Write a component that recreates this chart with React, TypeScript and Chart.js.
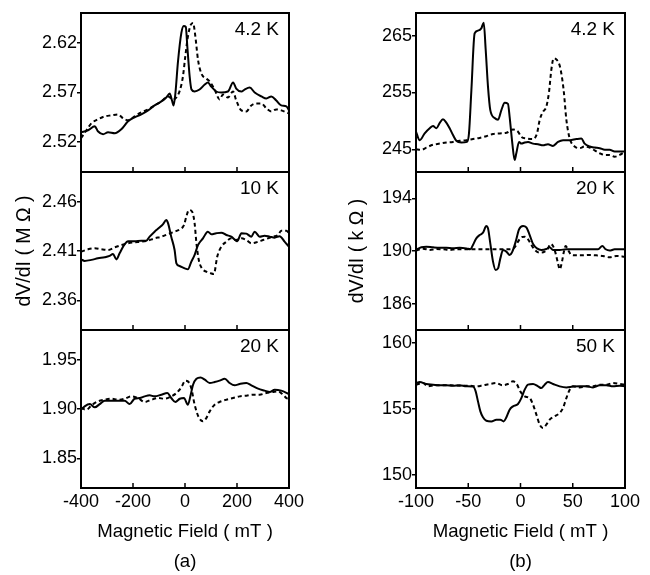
import { useEffect, useRef } from 'react';
import { Chart, registerables } from 'chart.js';

Chart.register(...registerables);

type Pt = [number, number];

// ---- Magnetic field axes (mT) ----
const fieldTicksA = [-400, -200, 0, 200, 400];
const fieldTicksB = [-100, -50, 0, 50, 100];
const innerTicksA = [-200, 0, 200];
const innerTicksB = [-50, 0, 50];

// ---- (a) dV/dI in MΩ ----
const a42Ticks = [2.52, 2.57, 2.62];
const a10Ticks = [2.36, 2.41, 2.46];
const a20Ticks = [1.85, 1.9, 1.95];

const a42Solid: Pt[] = [
  [-400, 2.530], [-373, 2.532], [-347, 2.536], [-335, 2.531], [-315, 2.528], [-296, 2.530],
  [-270, 2.529], [-245, 2.533], [-219, 2.541], [-194, 2.545], [-168, 2.548], [-142, 2.552],
  [-117, 2.557], [-91, 2.561], [-72, 2.565], [-59, 2.569], [-50, 2.562], [-44, 2.557],
  [-37, 2.569], [-27, 2.601], [-14, 2.630], [-5, 2.637], [3, 2.636], [9, 2.616], [18, 2.586],
  [25, 2.573], [37, 2.571], [56, 2.573], [76, 2.578], [88, 2.580], [101, 2.576], [120, 2.571],
  [140, 2.570], [165, 2.571], [185, 2.580], [197, 2.574], [217, 2.571], [229, 2.573],
  [249, 2.575], [268, 2.570], [294, 2.566], [313, 2.564], [332, 2.566], [351, 2.562],
  [370, 2.557], [390, 2.556], [400, 2.552],
];
const a42Dashed: Pt[] = [
  [-400, 2.524], [-379, 2.532], [-360, 2.539], [-335, 2.543], [-309, 2.546], [-283, 2.547],
  [-258, 2.548], [-238, 2.544], [-219, 2.542], [-194, 2.546], [-168, 2.550], [-142, 2.553],
  [-117, 2.557], [-91, 2.561], [-65, 2.566], [-46, 2.563], [-33, 2.565], [-20, 2.572],
  [-8, 2.586], [1, 2.606], [11, 2.626], [22, 2.638], [31, 2.640], [40, 2.626], [50, 2.603],
  [63, 2.589], [82, 2.584], [95, 2.581], [114, 2.573], [133, 2.563], [146, 2.568], [165, 2.565],
  [185, 2.571], [197, 2.562], [217, 2.552], [236, 2.551], [255, 2.557], [274, 2.559],
  [294, 2.559], [313, 2.554], [332, 2.551], [351, 2.553], [370, 2.552], [400, 2.549],
];

const a10Solid: Pt[] = [
  [-400, 2.4015], [-386, 2.400], [-360, 2.401], [-335, 2.4026], [-309, 2.4036], [-290, 2.405],
  [-277, 2.407], [-264, 2.4015], [-251, 2.408], [-232, 2.417], [-219, 2.420], [-194, 2.420],
  [-168, 2.4205], [-149, 2.4205], [-136, 2.4245], [-117, 2.4296], [-97, 2.434], [-85, 2.437],
  [-72, 2.4414], [-65, 2.438], [-53, 2.4245], [-40, 2.411], [-33, 2.3975], [-21, 2.3948],
  [-1, 2.3924], [11, 2.3914], [24, 2.399], [37, 2.406], [50, 2.416], [69, 2.4228], [88, 2.4296],
  [101, 2.427], [120, 2.428], [140, 2.4286], [159, 2.4262], [178, 2.4245], [201, 2.420],
  [217, 2.428], [236, 2.4276], [255, 2.4245], [268, 2.4296], [287, 2.4245], [306, 2.4255],
  [326, 2.4245], [345, 2.4235], [364, 2.425], [383, 2.4195], [400, 2.4144],
];
const a10Dashed: Pt[] = [
  [-400, 2.4093], [-373, 2.4117], [-347, 2.4127], [-322, 2.4117], [-296, 2.411], [-270, 2.4137],
  [-245, 2.416], [-219, 2.4178], [-194, 2.4188], [-168, 2.4194], [-142, 2.4205], [-117, 2.4228],
  [-91, 2.4245], [-65, 2.4272], [-40, 2.4296], [-20, 2.432], [-4, 2.4363], [5, 2.4448],
  [15, 2.4515], [27, 2.450], [37, 2.438], [44, 2.4178], [53, 2.4009], [65, 2.3924], [82, 2.389],
  [99, 2.3874], [111, 2.3867], [124, 2.4043], [140, 2.4144], [159, 2.4194], [178, 2.4228],
  [197, 2.4211], [217, 2.4228], [236, 2.4211], [255, 2.4178], [281, 2.4194], [300, 2.4211],
  [319, 2.4228], [338, 2.4245], [358, 2.4262], [370, 2.4306], [390, 2.4306], [400, 2.428],
];

const a20Solid: Pt[] = [
  [-400, 1.8993], [-386, 1.9027], [-366, 1.905], [-347, 1.9017], [-328, 1.905], [-309, 1.9084],
  [-283, 1.9084], [-258, 1.9084], [-232, 1.9084], [-213, 1.905], [-194, 1.9104], [-174, 1.9111],
  [-155, 1.9128], [-136, 1.9138], [-117, 1.9128], [-91, 1.9145], [-68, 1.9162], [-53, 1.9111],
  [-37, 1.9071], [-20, 1.9104], [-4, 1.9111], [11, 1.9044], [22, 1.9145], [31, 1.9246],
  [44, 1.9307], [60, 1.932], [76, 1.9297], [95, 1.9263], [114, 1.9273], [133, 1.9287],
  [153, 1.9307], [172, 1.9263], [191, 1.924], [210, 1.9253], [236, 1.9263], [255, 1.924],
  [281, 1.9206], [306, 1.9186], [326, 1.9172], [345, 1.9196], [370, 1.9186], [400, 1.9152],
];
const a20Dashed: Pt[] = [
  [-400, 1.901], [-379, 1.8993], [-360, 1.9037], [-335, 1.9077], [-309, 1.9094], [-283, 1.9104],
  [-258, 1.9094], [-232, 1.9104], [-206, 1.9128], [-181, 1.9111], [-155, 1.9071], [-129, 1.9094],
  [-104, 1.9111], [-78, 1.9104], [-53, 1.9128], [-33, 1.9162], [-14, 1.922], [1, 1.9287],
  [11, 1.928], [24, 1.9213], [37, 1.9044], [53, 1.8915], [69, 1.8875], [82, 1.8908],
  [95, 1.8976], [114, 1.9044], [133, 1.9071], [159, 1.9094], [185, 1.9111], [210, 1.9128],
  [236, 1.9135], [262, 1.9145], [287, 1.9145], [313, 1.9162], [338, 1.9172], [358, 1.9179],
  [377, 1.9145], [390, 1.9111], [400, 1.9104],
];

// ---- (b) dV/dI in kΩ ----
const b42Ticks = [245, 255, 265];
const b20Ticks = [186, 190, 194];
const b50Ticks = [150, 155, 160];

const b42Solid: Pt[] = [
  [-100, 248.1], [-96.5, 246.6], [-91.7, 247.8], [-86.9, 248.7], [-83.7, 249.1], [-80.5, 248.7],
  [-77.4, 249.6], [-74.2, 250.3], [-71, 249.7], [-67.8, 248.7], [-64.6, 247.5], [-61.4, 246.5],
  [-56.6, 246.2], [-51.2, 246.3], [-49.3, 247.8], [-47, 255.4], [-43.9, 265.4], [-40.7, 265.9],
  [-37.5, 266.3], [-35.2, 267.3], [-33.3, 262.5], [-31.1, 256], [-28.9, 251.9], [-24.7, 250.5],
  [-21.5, 250.2], [-18.3, 251.9], [-15.1, 253.2], [-12, 253], [-10.4, 250.7], [-7.8, 246],
  [-5.6, 243.1], [-4, 244.3], [-1.4, 246.3], [0.8, 246], [4, 246.2], [7.2, 246.3], [12, 246],
  [16.8, 245.9], [21.5, 245.7], [26.3, 245.9], [31.1, 245.6], [35.9, 246.3], [40.7, 246.6],
  [47.1, 246.6], [53.4, 246.8], [58.2, 246.9], [61.4, 246], [66.2, 245.5], [71, 245.3],
  [75.8, 245.2], [80.6, 244.9], [85.3, 244.9], [90.1, 244.6], [94.9, 244.6], [100, 244.6],
];
const b42Dashed: Pt[] = [
  [-100, 245], [-94.9, 244.9], [-90.1, 245.3], [-83.7, 245.8], [-77.4, 246], [-71, 246.2],
  [-64.6, 246.3], [-58.2, 246.5], [-51.8, 246.6], [-45.5, 246.8], [-39.1, 247], [-32.7, 247.3],
  [-26.3, 247.7], [-19.9, 247.8], [-13.5, 247.9], [-7.2, 248.5], [-2.4, 248.1], [0.8, 247.2],
  [5.6, 246.9], [12, 246.8], [15.8, 247.8], [18.4, 250.2], [21.5, 251.6], [24.7, 252.5],
  [27.3, 255.1], [29.5, 259], [31.7, 261], [35, 260.7], [38.1, 259.3], [41.3, 255.4],
  [43.9, 250.2], [47.1, 246.9], [51.8, 245.5], [56.6, 245.2], [61.4, 245.5], [66.2, 245.3],
  [71, 244.8], [75.8, 244.3], [80.6, 244], [85.3, 244], [90.1, 243.7], [94.9, 244], [100, 244.6],
];

const b20Solid: Pt[] = [
  [-100, 190.08], [-94.9, 190.28], [-90.1, 190.33], [-83.7, 190.28], [-77.4, 190.25],
  [-71, 190.25], [-64.6, 190.2], [-58.2, 190.25], [-51.8, 190.2], [-48, 190.13], [-45.5, 190.46],
  [-42.3, 190.96], [-39.1, 191.21], [-35.9, 191.39], [-32.7, 191.9], [-31.1, 191.72],
  [-28.9, 190.58], [-26.3, 189.19], [-23.8, 188.56], [-21.5, 188.68], [-19.3, 189.44],
  [-16.7, 190.08], [-13.5, 189.95], [-10.4, 189.7], [-7.8, 189.95], [-4.6, 190.71],
  [-1.4, 191.64], [2.4, 191.9], [5.6, 191.8], [8.8, 191.21], [12, 190.53], [15.8, 190.2],
  [19.9, 190.08], [24.7, 190.15], [27.9, 190.28], [31.1, 190.08], [37.5, 190.08], [43.9, 190.13],
  [50.2, 190.13], [56.6, 190.13], [63, 190.13], [69.4, 190.13], [74.2, 190.13], [78.3, 190.38],
  [81.5, 190.13], [85.3, 190.03], [90.1, 190.13], [94.9, 190.13], [100, 190.13],
];
const b20Dashed: Pt[] = [
  [-100, 190.03], [-93.3, 190.18], [-86.9, 190.08], [-80.5, 190.15], [-74.2, 190.13],
  [-67.8, 190.08], [-61.4, 190.13], [-55, 190.13], [-48.6, 190.13], [-42.3, 190.13],
  [-35.9, 190.13], [-29.5, 190.13], [-23.1, 190.13], [-16.7, 190.13], [-10.4, 190.13],
  [-5.6, 190.28], [-2.4, 190.71], [0.8, 191.04], [4, 191.09], [7.2, 190.89], [10.4, 190.46],
  [13.6, 190.08], [18.4, 189.87], [23.1, 189.95], [26.3, 190.2], [28.6, 190.53], [31.1, 190.38],
  [33.6, 189.82], [35.9, 189.06], [37.5, 188.61], [39.7, 189.19], [41.3, 189.87], [43.2, 190.38],
  [45.5, 190.08], [48.7, 189.7], [53.4, 189.67], [59.8, 189.67], [66.2, 189.7], [72.6, 189.67],
  [79, 189.62], [85.3, 189.52], [91.7, 189.62], [100, 189.57],
];

const b50Solid: Pt[] = [
  [-100, 156.97], [-96.5, 157.05], [-90.1, 156.9], [-83.7, 156.85], [-77.4, 156.8], [-71, 156.8],
  [-64.6, 156.77], [-58.2, 156.8], [-51.8, 156.72], [-45.5, 156.7], [-42.9, 156.34],
  [-40.7, 155.58], [-38.4, 154.82], [-35.9, 154.37], [-32.7, 154.11], [-27.9, 154.06],
  [-23.1, 154.19], [-19.3, 154.19], [-16.1, 154.06], [-13.5, 154.37], [-10.4, 154.95],
  [-7.2, 155.2], [-2.4, 155.38], [0.8, 155.83], [4, 156.47], [7.2, 156.85], [12, 156.9],
  [16.8, 156.72], [19.9, 156.59], [23.1, 156.85], [26.3, 157.05], [31.1, 156.9], [37.5, 156.72],
  [43.9, 156.64], [50.2, 156.7], [56.6, 156.72], [63, 156.72], [69.4, 156.64], [75.8, 156.8],
  [82.1, 156.8], [88.5, 156.72], [94.9, 156.77], [100, 156.72],
];
const b50Dashed: Pt[] = [
  [-100, 156.85], [-93.3, 156.97], [-88.5, 156.72], [-82.1, 156.8], [-74.2, 156.8],
  [-66.2, 156.8], [-58.2, 156.77], [-50.2, 156.77], [-42.3, 156.72], [-35.9, 156.8],
  [-29.5, 156.9], [-23.1, 156.97], [-17.4, 156.8], [-12, 156.9], [-7.2, 157.1], [-3.3, 156.85],
  [-0.2, 156.34], [4, 155.96], [8.8, 155.83], [12, 155.33], [15.2, 154.57], [18.4, 153.81],
  [21.5, 153.56], [24.7, 153.81], [27.9, 154.19], [32.7, 154.44], [37.5, 154.7], [40.7, 155.08],
  [43.9, 155.83], [47.1, 156.47], [50.2, 156.72], [56.6, 156.64], [63, 156.72], [69.4, 156.72],
  [75.8, 156.85], [82.1, 156.85], [88.5, 156.97], [94.9, 156.9], [100, 156.85],
];

// ---- page geometry ----
const W = 650;
const H = 575;
const FONT = '"Liberation Sans", Arial, Helvetica, sans-serif';
const TITLE_SIZE = 18.6;
const Y_TITLE_SIZE = 19.5;

Chart.defaults.font.family = FONT;
Chart.defaults.font.size = 18;
Chart.defaults.color = '#000';

interface Column {
  left: number;
  right: number;
  padLeft: number;
  xMin: number;
  xMax: number;
  xTicks: number[];
  innerTicks: number[];
  letter: string;
  yTitle: string;
  yTitleGap: number;
  decimals: number;
}

const columns: Column[] = [
  {
    left: 81, right: 289, padLeft: 0, xMin: -400, xMax: 400, xTicks: fieldTicksA,
    innerTicks: innerTicksA, letter: '(a)', yTitle: 'dV/dI ( M \u03A9 )', yTitleGap: 13.3, decimals: 2,
  },
  {
    left: 416, right: 625, padLeft: 325, xMin: -100, xMax: 100, xTicks: fieldTicksB,
    innerTicks: innerTicksB, letter: '(b)', yTitle: 'dV/dI ( k \u03A9 )', yTitleGap: 21.3, decimals: 0,
  },
];

const rows = [
  { top: 13, bottom: 172 },
  { top: 172, bottom: 330 },
  { top: 330, bottom: 488 },
];

interface Panel {
  col: number;
  row: number;
  label: string;
  yMin: number;
  yMax: number;
  yTicks: number[];
  solid: Pt[];
  dashed: Pt[];
}

const panels: Panel[] = [
  { col: 0, row: 0, label: '4.2 K', yMin: 2.49, yMax: 2.65, yTicks: a42Ticks, solid: a42Solid, dashed: a42Dashed },
  { col: 0, row: 1, label: '10 K', yMin: 2.33, yMax: 2.49, yTicks: a10Ticks, solid: a10Solid, dashed: a10Dashed },
  { col: 0, row: 2, label: '20 K', yMin: 1.82, yMax: 1.98, yTicks: a20Ticks, solid: a20Solid, dashed: a20Dashed },
  { col: 1, row: 0, label: '4.2 K', yMin: 241, yMax: 269, yTicks: b42Ticks, solid: b42Solid, dashed: b42Dashed },
  { col: 1, row: 1, label: '20 K', yMin: 184, yMax: 196, yTicks: b20Ticks, solid: b20Solid, dashed: b20Dashed },
  { col: 1, row: 2, label: '50 K', yMin: 149, yMax: 161, yTicks: b50Ticks, solid: b50Solid, dashed: b50Dashed },
];

// Frame, inward field ticks and the temperature tag for one panel.
function makeDecor(label: string, innerTicks: number[]) {
  return {
    id: 'panelDecor',
    afterDraw(chart: any) {
      const { ctx, chartArea: a, scales } = chart;
      ctx.save();
      ctx.strokeStyle = '#000';
      ctx.lineWidth = 1.5;
      for (const v of innerTicks) {
        const x = scales.x.getPixelForValue(v);
        ctx.beginPath();
        ctx.moveTo(x, a.bottom);
        ctx.lineTo(x, a.bottom - 5);
        ctx.stroke();
      }
      ctx.lineWidth = 2;
      ctx.strokeRect(a.left, a.top, a.right - a.left, a.bottom - a.top);
      ctx.fillStyle = '#000';
      ctx.font = `19px ${FONT}`;
      ctx.textAlign = 'right';
      ctx.textBaseline = 'middle';
      ctx.fillText(label, a.right - 10, a.top + 17);
      ctx.restore();
    },
  };
}

function PanelChart({ p }: { p: Panel }) {
  const ref = useRef<HTMLCanvasElement | null>(null);

  useEffect(() => {
    const c = columns[p.col];
    const r = rows[p.row];
    const isBottom = p.row === 2;
    const isMiddle = p.row === 1;
    const yWidth = c.left - c.padLeft;

    const line = (pts: Pt[], dash: number[]) => ({
      data: pts.map(([x, y]) => ({ x, y })),
      borderColor: '#000',
      borderWidth: 2,
      borderDash: dash,
      pointRadius: 0,
      fill: false,
      cubicInterpolationMode: 'monotone' as const,
    });

    const chart = new Chart(ref.current as HTMLCanvasElement, {
      type: 'line',
      data: { datasets: [line(p.solid, []), line(p.dashed, [4, 3])] },
      options: {
        responsive: false,
        animation: false,
        events: [],
        layout: {
          padding: {
            left: c.padLeft,
            top: r.top,
            right: W - c.right,
            bottom: isBottom ? 0 : H - r.bottom,
          },
        },
        plugins: { legend: { display: false }, tooltip: { enabled: false } },
        scales: {
          x: {
            type: 'linear',
            min: c.xMin,
            max: c.xMax,
            display: isBottom,
            grid: { display: false, drawTicks: false },
            border: { display: false },
            ticks: { padding: 3, font: { size: 18 }, callback: (v: any) => String(v) },
            afterBuildTicks: (s: any) => {
              s.ticks = c.xTicks.map((value) => ({ value }));
            },
            afterFit: (s: any) => {
              if (isBottom) s.height = H - r.bottom;
            },
            title: {
              display: true,
              text: ['Magnetic Field ( mT )', c.letter],
              font: { size: TITLE_SIZE, lineHeight: 30.5 / TITLE_SIZE },
              padding: { top: 0, bottom: -2.25 },
            },
          },
          y: {
            type: 'linear',
            min: p.yMin,
            max: p.yMax,
            grid: { drawOnChartArea: false, drawTicks: true, tickLength: 4, lineWidth: 1.5, color: '#000' },
            border: { display: false },
            ticks: { padding: 0, font: { size: 18 }, callback: (v: any) => Number(v).toFixed(c.decimals) },
            afterBuildTicks: (s: any) => {
              s.ticks = p.yTicks.map((value) => ({ value }));
            },
            afterFit: (s: any) => {
              s.width = yWidth;
            },
            title: {
              display: isMiddle,
              text: c.yTitle,
              font: { size: Y_TITLE_SIZE },
              padding: { top: c.yTitleGap, bottom: 0 },
            },
          },
        },
      } as any,
      plugins: [makeDecor(p.label, c.innerTicks)],
    });
    return () => chart.destroy();
  }, [p]);

  return (
    <canvas
      ref={ref}
      width={W}
      height={H}
      style={{ position: 'absolute', left: 0, top: 0, width: W, height: H }}
    />
  );
}

export default function App() {
  return (
    <div style={{ position: 'absolute', left: 0, top: 0, width: W, height: H, background: '#fff' }}>
      {panels.map((p, i) => (
        <PanelChart key={i} p={p} />
      ))}
    </div>
  );
}
